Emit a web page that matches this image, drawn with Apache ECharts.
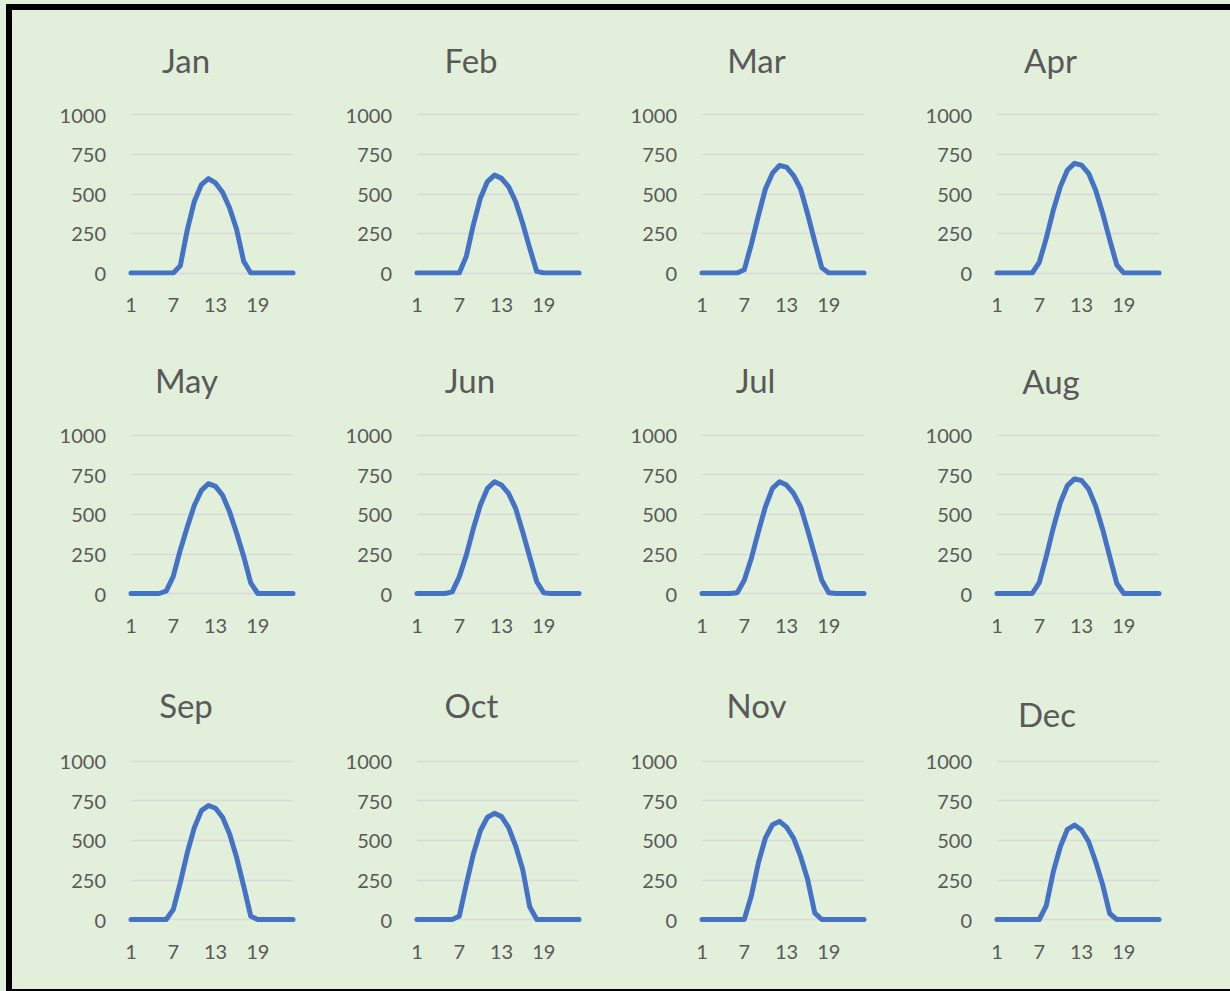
<!DOCTYPE html>
<html>
<head>
<meta charset="utf-8">
<script src="https://cdn.jsdelivr.net/npm/echarts@6/dist/echarts.min.js"></script>
<style>
html,body{margin:0;padding:0;background:#E2EFDA;}
#chart{width:1230px;height:991px;}
</style>
</head>
<body>
<div id="chart"></div>
<script>
// ---- data ----
const hours = ['1','2','3','4','5','6','7','8','9','10','11','12','13','14','15','16','17','18','19','20','21','22','23','24'];
const months = ['Jan','Feb','Mar','Apr','May','Jun','Jul','Aug','Sep','Oct','Nov','Dec'];
const yTicks = [0, 250, 500, 750, 1000];

const jan = [0,0,0,0,0,0,0,46,274,453,558,596,568,509,410,274,74,0,0,0,0,0,0,0];
const feb = [0,0,0,0,0,0,0,105,304,472,577,618,597,545,451,314,157,10,0,0,0,0,0,0];
const mar = [0,0,0,0,0,0,20,180,360,530,630,678,668,615,530,372,200,34,0,0,0,0,0,0];
const apr = [0,0,0,0,0,0,67,220,398,545,650,692,681,629,524,377,210,52,0,0,0,0,0,0];
const may = [0,0,0,0,0,15,108,275,421,557,651,693,676,620,515,380,234,67,0,0,0,0,0,0];
const jun = [0,0,0,0,0,10,105,242,410,558,663,705,684,632,537,389,232,74,4,0,0,0,0,0];
const jul = [0,0,0,0,0,5,84,221,389,547,663,705,684,632,547,400,242,84,5,0,0,0,0,0];
const aug = [0,0,0,0,0,0,68,234,415,574,681,723,713,660,553,404,234,64,0,0,0,0,0,0];
const sep = [0,0,0,0,0,0,63,233,423,581,687,719,702,645,539,391,211,21,0,0,0,0,0,0];
const oct = [0,0,0,0,0,0,21,222,412,560,645,670,649,581,465,317,80,0,0,0,0,0,0,0];
const nov = [0,0,0,0,0,0,0,148,357,514,598,619,583,514,398,252,42,0,0,0,0,0,0,0];
const dec = [0,0,0,0,0,0,0,88,303,460,569,596,565,492,366,220,38,0,0,0,0,0,0,0];
const monthData = [jan, feb, mar, apr, may, jun, jul, aug, sep, oct, nov, dec];

// ---- layout ----
const colLeft = [131, 417, 702, 997];
const plotW = 162;
const rowTop = [114.5, 435, 761];
const plotH = 158.5;
const titlePos = [
  [186, 61], [471, 61], [756.5, 61], [1050.5, 61],
  [186.5, 381], [470, 381], [755.5, 381], [1051, 382],
  [186, 706], [471.5, 706], [756.5, 706], [1047, 715.5]
];
const FONT = 'Lato, "Open Sans", sans-serif';
const GRAY = '#595959';

const grids = [], xAxes = [], yAxes = [], series = [], graphics = [];
monthData.forEach((vals, i) => {
  const r = Math.floor(i / 4), c = i % 4;
  grids.push({ left: colLeft[c], top: rowTop[r], width: plotW, height: plotH, containLabel: false });
  xAxes.push({
    type: 'category', gridIndex: i, data: hours, boundaryGap: false,
    axisLine: { show: false }, axisTick: { show: false },
    axisLabel: { interval: 5, color: GRAY, fontFamily: FONT, fontSize: 20, margin: 21 },
    splitLine: { show: false }
  });
  yAxes.push({
    type: 'value', gridIndex: i, min: yTicks[0], max: yTicks[yTicks.length - 1], interval: yTicks[1] - yTicks[0],
    axisLine: { show: false }, axisTick: { show: false },
    axisLabel: { color: GRAY, fontFamily: FONT, fontSize: 20, margin: 25, formatter: v => String(v) },
    splitLine: { lineStyle: { color: '#D9D9D9', width: 1.3 } }
  });
  series.push({
    type: 'line', xAxisIndex: i, yAxisIndex: i, data: vals,
    showSymbol: false, symbol: 'none', smooth: false,
    lineStyle: { color: '#4472C4', width: 5, cap: 'round', join: 'round' },
    itemStyle: { color: '#4472C4' }, animation: false
  });
  graphics.push({
    type: 'text', x: titlePos[i][0], y: titlePos[i][1] - 1.5,
    style: { text: months[i], fill: GRAY, font: '33px ' + FONT, textAlign: 'center', textVerticalAlign: 'middle', align: 'center', verticalAlign: 'middle' }
  });
});
graphics.push({
  type: 'rect', z: 100, shape: { x: 9, y: 7, width: 1260, height: 985 },
  style: { fill: 'none', stroke: '#000000', lineWidth: 6 }
});

const chart = echarts.init(document.getElementById('chart'), null, { renderer: 'svg' });
chart.setOption({
  backgroundColor: '#E2EFDA',
  animation: false,
  grid: grids, xAxis: xAxes, yAxis: yAxes, series: series,
  graphic: graphics
});
</script>
</body>
</html>
